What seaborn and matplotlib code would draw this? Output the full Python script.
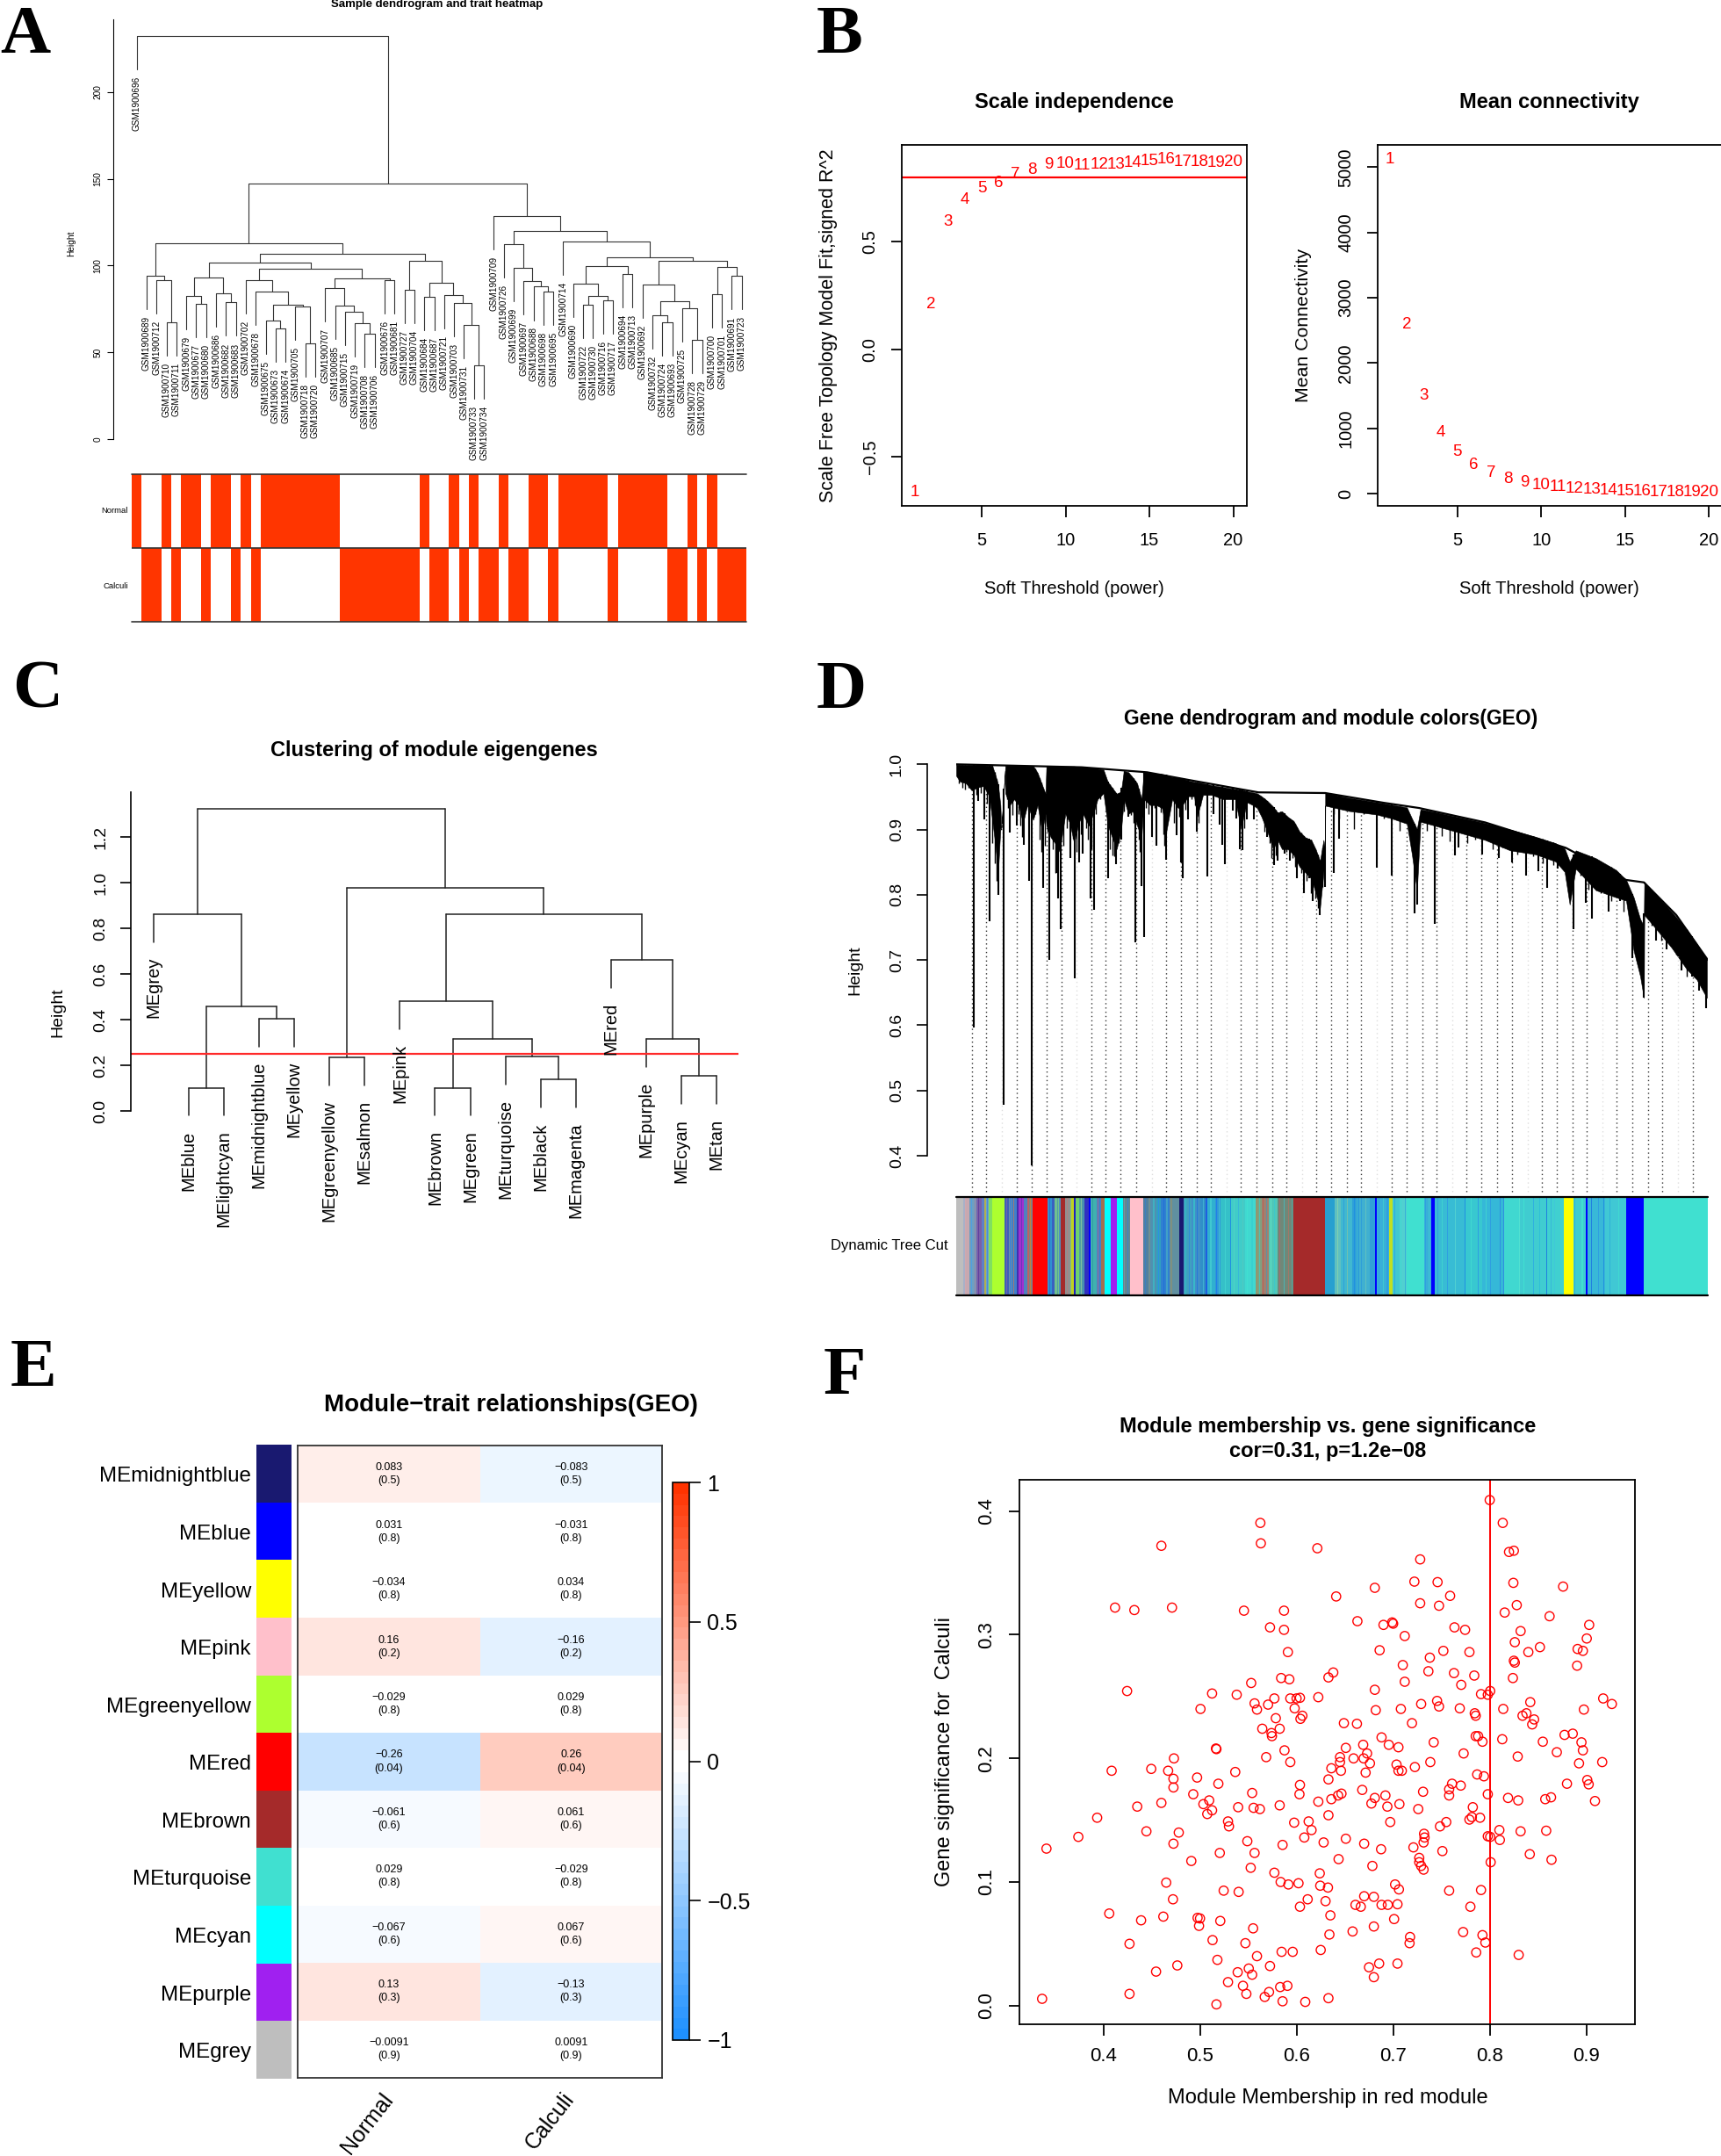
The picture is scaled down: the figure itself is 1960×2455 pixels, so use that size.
import numpy as np
import seaborn as sns
import matplotlib.pyplot as plt
from matplotlib.colors import ListedColormap, LinearSegmentedColormap

W, H = 1960, 2455
FONT = 'Liberation Sans'

# --------------------------------------------------------------------------- #
# Panel A: sample dendrogram, node = (height, left, right), leaf = GSM suffix
sample_tree = (232.4, 696, (147.3,
    (113.0,
        (94.0, 689, (91.5, 712, (67.5, 710, 711))),
        (106.8,
            (102.0,
                (93.0,
                    (82.4, 679, (77.8, 677, 680)),
                    (83.9, 686, (78.8, 682, 683))),
                (98.0,
                    (91.8, 702, (85.2, 678, (77.6,
                        (68.2, 675, (64.0, 673, 674)),
                        (76.6, 705, (55.2, 718, 720))))),
                    (92.5,
                        (87.3, 707, (76.8, 685, (73.4, 715, (67.0, 719, (61.0, 708, 706))))),
                        (91.5, 676, 681)))),
            (102.6,
                (86.2, 727, 704),
                (90.0,
                    (82.2, 684, 687),
                    (83.2, 721, (78.6, 703, (65.8, 731, (42.7, 733, 734)))))))),
    (128.6, 709, (119.8,
        (112.6, 726, (98.9, 699, (91.0, 697, (87.9, 688, (85.2, 698, 695))))),
        (113.8, 714, (105.0,
            (99.6,
                (89.5, 690, (82.7, (77.3, 722, 730), (80.2, 716, 717))),
                (95.4, 694, 713)),
            (102.6,
                (89.0, 692, (79.3,
                    (71.4, 732, (67.5, 724, 693)),
                    (75.6, 725, (57.4, 728, 729)))),
                (99.4, (83.7, 700, 701), (94.0, 691, 723)))))))))
trait_names = ['Normal', 'Calculi']
trait_normal = [1, 0, 0, 1, 0, 1, 1, 0, 1, 1, 0, 1, 0, 1, 1, 1, 1, 1, 1, 1, 1,
                0, 0, 0, 0, 0, 0, 0, 0, 1, 0, 0, 1, 0, 1, 0, 0, 1, 0, 0, 1, 1,
                0, 1, 1, 1, 1, 1, 0, 1, 1, 1, 1, 1, 0, 0, 1, 0, 1, 0, 0, 0]

# Panel B: soft threshold fit
powers = list(range(1, 21))
scale_fit = [-0.667, 0.207, 0.592, 0.696, 0.749, 0.775, 0.815, 0.833, 0.859, 0.8625,
             0.856, 0.859, 0.859, 0.866, 0.874, 0.883, 0.872, 0.871, 0.868, 0.871]
mean_conn = [5117, 2585, 1500, 941, 633, 436, 314, 229, 170, 128,
             96, 74, 59, 48, 37, 32, 27, 21, 16, 16]

# Panel C: module eigengene tree
me_tree = (1.324,
    (0.863, 'MEgrey', (0.459, (0.102, 'MEblue', 'MElightcyan'),
                       (0.405, 'MEmidnightblue', 'MEyellow'))),
    (0.978, (0.235, 'MEgreenyellow', 'MEsalmon'),
     (0.864,
      (0.482, 'MEpink', (0.3145, (0.102, 'MEbrown', 'MEgreen'),
                         (0.240, 'MEturquoise', (0.137, 'MEblack', 'MEmagenta')))),
      (0.662, 'MEred', (0.317, 'MEpurple', (0.153, 'MEcyan', 'MEtan'))))))

# Panel D: gene tree read as percent of gene order vs height
roof_x = [0, 16.7, 25.4, 31.45, 40.2, 48.9, 49.1, 56.9, 61.6, 70.36, 81.1, 89.1, 91.5, 95.8, 100]
roof_h = [1.0, 0.9955, 0.9878, 0.975, 0.957, 0.956, 0.956, 0.941, 0.933, 0.911, 0.872, 0.8228, 0.819, 0.769, 0.7]
mass_x = [0.0, 0.51, 1.29, 2.06, 2.84, 3.62, 4.4, 4.79, 5.18, 5.57, 5.88, 6.0, 6.5, 6.54, 7.13, 7.71, 8.29, 8.88,
          9.46, 10.24, 10.83, 11.41, 11.88, 12.0, 12.58, 13.16, 13.75, 14.52, 15.11, 15.69, 16.28, 16.86, 17.64,
          18.22, 18.81, 19.59, 20.17, 20.76, 21.34, 21.92, 22.31, 22.9, 23.48, 24.07, 24.65, 24.96, 25.82, 26.6,
          27.38, 27.96, 28.74, 29.52, 30.1, 30.88, 31.66, 32.05, 32.83, 34.0, 35.55, 37.11, 37.89, 38.67, 39.45,
          40.03, 40.62, 41.39, 42.17, 42.76, 43.34, 44.12, 44.9, 45.68, 46.46, 47.24, 47.82, 48.4, 48.87, 49.08,
          49.1, 52.25, 55.94, 57.95, 59.96, 60.63, 61.3, 61.77, 63.65, 67.0, 70.36, 73.7, 77.06, 79.75, 80.95,
          81.62, 82.43, 85.1, 87.8, 89.13, 90.14, 91.0, 91.48, 91.55, 93.16, 95.17, 97.18, 98.52, 99.87]
mass_top = [0.9995, 0.9995, 0.999, 0.999, 0.999, 0.9985, 0.998, 0.998, 0.985, 0.969, 0.9375, 0.9, 0.99, 0.998,
            0.998, 0.998, 0.998, 0.998, 0.9975, 0.9975, 0.987, 0.969, 0.955, 0.9975, 0.9975, 0.997, 0.997, 0.997,
            0.997, 0.997, 0.996, 0.995, 0.995, 0.995, 0.993, 0.992, 0.973, 0.964, 0.955, 0.958, 0.99, 0.988,
            0.98, 0.971, 0.9465, 0.988, 0.987, 0.986, 0.985, 0.984, 0.98, 0.98, 0.978, 0.975, 0.973, 0.9725,
            0.971, 0.968, 0.965, 0.962, 0.961, 0.9586, 0.957, 0.9555, 0.951, 0.944, 0.935, 0.926, 0.928, 0.9195,
            0.913, 0.897, 0.888, 0.884, 0.87, 0.852, 0.884, 0.87,
            0.956, 0.9487, 0.942, 0.938, 0.934, 0.917, 0.901, 0.931, 0.927, 0.9185, 0.91, 0.9, 0.889, 0.879, 0.871,
            0.851, 0.868, 0.856, 0.838, 0.823, 0.796, 0.763, 0.752, 0.8195, 0.799, 0.774, 0.747, 0.725, 0.7]
mass_low = [0.9824, 0.9734, 0.971, 0.96, 0.9645, 0.9667, 0.951, 0.915, 0.879, 0.834, 0.902, 0.9, 0.99, 0.9555,
            0.9375, 0.9465, 0.9375, 0.91, 0.9375, 0.915, 0.9375, 0.897, 0.924, 0.906, 0.888, 0.879, 0.866, 0.924,
            0.91, 0.879, 0.91, 0.924, 0.906, 0.924, 0.9465, 0.9555, 0.906, 0.888, 0.87, 0.897, 0.9465, 0.924,
            0.928, 0.906, 0.888, 0.9465, 0.9375, 0.9375, 0.933, 0.897, 0.9465, 0.933, 0.9375, 0.951, 0.951, 0.9195,
            0.953, 0.953, 0.9465, 0.9465, 0.9016, 0.942, 0.9375, 0.933, 0.9195, 0.897, 0.87, 0.884, 0.87, 0.87,
            0.861, 0.843, 0.834, 0.825, 0.803, 0.78, 0.834, 0.87,
            0.9366, 0.9284, 0.923, 0.917, 0.909, 0.862, 0.807, 0.912, 0.906, 0.895, 0.884, 0.868, 0.862, 0.851,
            0.835, 0.785, 0.84, 0.807, 0.796, 0.791, 0.714, 0.675, 0.642, 0.769, 0.747, 0.719, 0.686, 0.67, 0.642]
spike_x = [2.38, 2.96, 3.7, 4.48, 5.57, 6.35, 7.13, 8.02, 9.0, 9.7, 10.09, 11.6, 12.38, 13.36, 13.59, 13.9, 15.23,
           15.77, 16.32, 16.86, 17.83, 18.3, 20.17, 21.3, 22.0, 22.94, 23.79, 24.65, 24.96, 26.09, 26.67, 27.92,
           29.32, 29.91, 30.14, 30.88, 32.0, 33.4, 34.27, 35.0, 35.4, 35.79, 36.8, 37.3, 37.77, 38.04, 38.67, 39.6,
           41.39, 42.25, 42.76, 43.65, 44.43, 45.37, 46.26, 46.92, 47.47, 48.4, 49.03, 50.2, 50.9, 55.94, 57.95,
           60.97, 61.3, 63.65, 66.33, 66.87, 70.0, 72.2, 74.0, 75.85, 77.4, 78.67, 80.08, 82.1, 83.77, 84.57, 86.79,
           88.33, 89.94, 91.5, 93.16, 94.5, 96.5, 97.85, 98.86, 99.73]
spike_low = [0.596, 0.944, 0.916, 0.76, 0.8, 0.478, 0.895, 0.906, 0.877, 0.822, 0.385, 0.81, 0.7, 0.834, 0.795, 0.747,
             0.857, 0.672, 0.85, 0.863, 0.794, 0.777, 0.826, 0.847, 0.884, 0.92, 0.727, 0.813, 0.735, 0.888, 0.875,
             0.854, 0.892, 0.85, 0.826, 0.916, 0.897, 0.828, 0.924, 0.907, 0.877, 0.847, 0.929, 0.917, 0.87, 0.868,
             0.916, 0.916, 0.888, 0.845, 0.852, 0.863, 0.852, 0.825, 0.803, 0.825, 0.79, 0.769, 0.812, 0.834, 0.886,
             0.842, 0.829, 0.772, 0.785, 0.756, 0.86, 0.873, 0.862, 0.857, 0.85, 0.83, 0.836, 0.811, 0.84, 0.747,
             0.788, 0.763, 0.774, 0.791, 0.703, 0.642, 0.73, 0.717, 0.684, 0.675, 0.653, 0.626]
fine_x = [0.31, 0.82, 1.21, 1.67, 2.65, 3.23, 4.09, 4.79, 5.1, 5.37, 6.74, 6.93, 7.44, 8.29, 8.53, 8.76, 9.31, 10.47,
          11.1, 11.33, 11.8, 12.19, 12.89, 13.16, 14.21, 14.72, 15.5, 16.0, 16.55, 17.25, 17.56, 18.03, 18.61, 19.2,
          20.44, 20.76, 21.07, 21.6, 22.31, 23.29, 23.56, 24.26, 24.45, 25.23, 25.62, 26.4, 27.18, 27.57, 27.69,
          28.54, 29.01, 29.71, 30.49, 31.35, 31.74, 32.24, 32.52, 38.28, 41.0, 41.7, 41.98, 42.48, 43.15, 43.93,
          44.7, 45.09, 45.87, 46.65, 47.24, 47.82, 48.09, 48.71, 50.2, 50.9, 52.9, 54.26, 56.94, 58.95, 62.64, 64.66,
          65.66, 68.0, 69.0, 71.36, 72.7, 74.7, 76.7, 78.05, 79.4, 83.1, 84.1, 85.8, 87.1, 88.8, 92.5, 93.8, 95.84,
          97.18]
fine_low = [0.971, 0.9645, 0.961, 0.9645, 0.953, 0.956, 0.94, 0.879, 0.848, 0.821, 0.9465, 0.933, 0.922, 0.924, 0.906,
            0.888, 0.933, 0.924, 0.884, 0.866, 0.875, 0.897, 0.87, 0.834, 0.875, 0.9016, 0.886, 0.866, 0.893, 0.9016,
            0.884, 0.87, 0.924, 0.9465, 0.87, 0.861, 0.859, 0.879, 0.928, 0.922, 0.91, 0.884, 0.866, 0.933, 0.924,
            0.933, 0.926, 0.893, 0.875, 0.942, 0.91, 0.919, 0.931, 0.9465, 0.9375, 0.91, 0.9375, 0.9016, 0.897, 0.879,
            0.857, 0.861, 0.879, 0.866, 0.857, 0.843, 0.834, 0.821, 0.803, 0.794, 0.78, 0.812, 0.923, 0.9174, 0.901,
            0.923, 0.9174, 0.898, 0.898, 0.89, 0.8816, 0.879, 0.884, 0.87, 0.873, 0.862, 0.8596, 0.8486, 0.846, 0.829,
            0.8074, 0.802, 0.791, 0.774, 0.7524, 0.73, 0.708, 0.675]
guide_dark = [2.1, 4.0, 8.06, 10.05, 12.06, 14.05, 17.95, 19.9, 21.9, 23.9, 27.9, 29.9, 32.0, 33.9, 37.9, 39.9, 42.0,
              43.9, 47.9, 49.9, 52.0, 53.9, 57.9, 59.9, 62.0, 63.9, 67.9, 69.9, 72.0, 73.9, 77.9, 79.9, 82.0, 83.9,
              87.9, 89.9, 92.0, 93.9, 98.0]
guide_faint = [6.05, 16.0, 26.0, 36.0, 46.0, 56.0, 66.0, 76.0, 86.0, 96.0]

seg_colors = ['#BEBEBE', '#A8B0C8', '#C8A8B0', '#6F9FC0', '#7A5FA8', '#5F7FC8', '#B0B050', '#70A0C8', '#80E060',
              '#ADFF2F', '#4060B8', '#6F8FA8', '#4080C8', '#4030B0', '#A030D0', '#5080C0', '#C06060', '#808080',
              '#FF0000', '#3090D0', '#3A60C0', '#70C090', '#5090C0', '#A52A2A', '#909090', '#80C080', '#C0D020',
              '#2020C0', '#70D070', '#50A0A0', '#3030C0', '#0000FF', '#40B0B0', '#4080C8', '#A07050', '#00FFFF',
              '#A020F0', '#00FFFF', '#608890', '#FFC0CB', '#5080A0', '#5090B0', '#30A0C0', '#3080D0', '#6090A0',
              '#191970', '#40A0C0', '#4090C8', '#3090C8', '#30B0D0', '#3098D8', '#35C0C8', '#40CCC8', '#40D8D0',
              '#80A080', '#A08070', '#50C8B8', '#708878', '#A52A2A', '#28A0D0', '#60C0C0', '#40B8D0', '#2EA0D8',
              '#40B0D0', '#30A0D8', '#0000FF', '#38B0D8', '#C0E020', '#40C8D0', '#50D0D0', '#40E0D0', '#38B0D8',
              '#0000FF', '#38BCD4', '#38C8D0', '#35B8D8', '#40D8D0', '#40CCD0', '#2080E0', '#40D0D0', '#FFFF00',
              '#40CCD0', '#0000FF', '#38B8D8', '#40C8D4', '#0000FF', '#40E0D0']
seg_widths = [24, 10, 10, 25, 17, 10, 6, 10, 12, 42, 13, 10, 17, 8, 18, 10, 7, 11, 51, 15, 10, 14, 6, 16, 17, 5, 8,
              6, 11, 20, 15, 6, 19, 15, 12, 23, 21, 19, 25, 44, 26, 20, 15, 30, 33, 15, 27, 30, 25, 27, 18, 35, 50,
              35, 20, 25, 30, 55, 107, 33, 20, 40, 25, 35, 18, 7, 40, 12, 26, 22, 60, 25, 12, 103, 60, 75, 50, 95,
              3, 55, 33, 44, 6, 59, 71, 61, 219]
# thin stripes inside the mixed stretches: bin, width, colour
stripe_bin = [29, 52, 62, 76, 92, 104, 171, 184, 196, 221, 236, 252, 319, 344, 379, 426, 432, 466, 484, 574, 584,
              646, 658, 674, 690, 708, 719, 734, 784, 796, 812, 824, 844, 854, 869, 889, 899, 919, 936, 949, 964,
              979, 994, 1009, 1027, 1036, 1049, 1059, 1074, 1086, 1104, 1119, 1134, 1146,
              1304, 1324, 1336, 1359, 1369, 1384, 1399, 1444, 1459, 1472, 1499, 1519, 1534, 1604, 1614, 1646, 1659,
              1679, 1704, 1739, 1759, 1784, 1809, 1824, 1859, 1869, 1924, 1939, 1974, 1994, 2034, 2046, 2114, 2139,
              2172, 2194, 2214, 2234, 2264]
stripe_width = [3, 3, 3, 3, 2, 3, 3, 3, 3, 3, 2, 3, 3, 3, 3, 3, 2, 3, 3, 3, 3,
                4, 5, 5, 4, 4, 4, 5, 3, 3, 4, 3, 3, 4, 4, 4, 3, 4, 4, 3, 4,
                3, 4, 6, 3, 3, 3, 3, 4, 3, 3, 4, 3, 4,
                3, 4, 3, 4, 3, 3, 3, 4, 4, 4, 3, 3, 3, 3, 3, 3, 3,
                3, 3, 2, 4, 3, 3, 3, 3, 3, 4, 5, 3, 3, 3, 3, 3, 4, 3, 3, 3, 3, 3]
stripe_color = ['#D0A8B0', '#50A0E0', '#A080A0', '#6040A0', '#D0B040', '#4090D8', '#7060B0', '#3080E0', '#A07878',
                '#7030C0', '#A04040', '#C08040', '#2870D0', '#50A0A0', '#B08080', '#80C0A0', '#4080C0', '#2FA0A0',
                '#A07090', '#7890A0', '#4080C8',
                '#3C7FC0', '#709090', '#40B0C0', '#2F8FE0', '#2070D8', '#40A0C8', '#80907F', '#30C0C0', '#2F8FD8',
                '#38B8C8', '#2878D8', '#40B0D0', '#1F60E0', '#40C8D0', '#2080E8', '#40C0D0', '#40D0D0', '#2090E0',
                '#50D0C8', '#38B8D8', '#50C8C0', '#40E0D0', '#38D0D0', '#A09060', '#50C0B0', '#C06050', '#6090A0',
                '#60E0C0', '#40C8C8', '#A07070', '#50B0B0', '#A07868', '#50A8A0',
                '#80D0B0', '#30A0D8', '#70C0B0', '#2090E0', '#40B8D0', '#2F9FD8', '#60C0C0', '#2F9FE0', '#40C8D0',
                '#2F9FE0', '#30A8E0', '#40D8D0', '#38B0D8', '#2F9FE0', '#40C8D0', '#2F9FE0', '#40D0D0', '#2F9FE0',
                '#50D0D0', '#2090E0', '#40D8D0', '#2F9FE0', '#40D0D0', '#2F9FE0', '#2F90E0', '#2F90E0', '#50E0D0',
                '#40E0D0', '#2FB0E0', '#30C0D8', '#38B8D8', '#40C8D8', '#30B0D8', '#40E0D0', '#2080E0', '#2FA0E0',
                '#2090E0', '#30B0D8', '#40D8D0']

# Panel E: module-trait table
me_names = ['MEmidnightblue', 'MEblue', 'MEyellow', 'MEpink', 'MEgreenyellow', 'MEred',
            'MEbrown', 'MEturquoise', 'MEcyan', 'MEpurple', 'MEgrey']
me_colors = ['#191970', '#0000FF', '#FFFF00', '#FFC0CB', '#ADFF2F', '#FF0000',
             '#A52A2A', '#40E0D0', '#00FFFF', '#A020F0', '#BEBEBE']
cor_normal = [0.083, 0.031, -0.034, 0.16, -0.029, -0.26, -0.061, 0.029, -0.067, 0.13, -0.0091]
pval = [0.5, 0.8, 0.8, 0.2, 0.8, 0.04, 0.6, 0.8, 0.6, 0.3, 0.9]

# Panel F: module membership vs gene significance
mm = [.800, .5625, .8135, .460, .563, .6215, .820, .825, .728, .722, .746, .8245, .876, .681, .641, .759, .728, .7475,
      .828, .412, .471, .432, .5455, .587, .8155, .862, .663, .699, .700, .690, .903, .5725, .7635, .587, .7745, .832,
      .712, .9005, .826, .852, .891, .8965, .591, .686, .752, .779, .840, .738, .825, .826, .710, .8905, .7365, .638,
      .633, .584, .5925, .763, .784, .824, .712, .553, .7705, .4245, .681, .8005, .5125, .791, .798, .538, .6225, .577,
      .5935, .600, .6035, .9175, .7455, .842, .5565, .5705, .729, .9265, .7475, .5005, .559, .598, .682, .708, .769,
      .814, .8975, .7845, .7855, .834, .838, .606, .604, .5785, .846, .844, .649, .6625, .7195, .5645, .5825, .574,
      .5745, .688, .7855, .788, .8775, .886, .813, .7925, .855, .895, .669, .6955, .7055, .742, .651, .5165, .517,
      .5875, .8965, .673, .773, .8695, .473, .5685, .645, .659, .6695, .829, .5935, .645, .676, .7035, .7385, .8925,
      .9165, .636, .7225, .4495, .4085, .467, .646, .7055, .709, .5365, .6715, .787, .794, .497, .4725, .633, .901,
      .519, .761, .770, .880, .9025, .6035, .4725, .758, .554, .668, .731, .603, .493, .6465, .643, .692, .798, .758,
      .636, .681, .819, .8575, .8635, .6225, .5095, .8295, .909, .460, .5035, .7065, .6775, .435, .5825, .5395, .5555,
      .694, .7825, .562, .5125, .726, .5075, .633, .3935, .790, .7815, .779, .529, .6125, .5975, .697, .755, .530,
      .7485, .6155, .4445, .478, .810, .832, .8585, .732, .7325, .374, .608, .651, .798, .8005, .8105, .549, .628,
      .7315, .4725, .670, .5855, .721, .341, .6875, .5205, .5565, .751, .8415, .6435, .727, .491, .864, .801, .727,
      .729, .7315, .6785, .5525, .577, .624, .465, .5835, .5915, .602, .702, .6245, .6325, .706, .5245, .540, .758,
      .791, .472, .670, .680, .6115, .630, .661, .688, .6945, .7045, .6665, .6035, .780, .406, .635, .462, .4975,
      .500, .439, .521, .701, .499, .680, .555, .658, .7725, .634, .7925, .7175, .513, .7955, .427, .547, .717, .625,
      .5845, .596, .786, .559, .830, .518, .6855, .7045, .4765, .5725, .675, .5505, .4545, .539, .554, .680, .529,
      .5445, .5905, .583, .427, .548, .5715, .567, .3365, .633, .5855, .609, .517]
gs = [.409, .3905, .3905, .372, .374, .370, .367, .368, .361, .343, .3426, .342, .339, .338, .331, .3315, .3255, .3235,
      .324, .322, .322, .320, .3195, .3195, .318, .315, .311, .310, .309, .308, .308, .306, .306, .304, .304, .303,
      .299, .297, .294, .290, .2885, .287, .286, .2875, .287, .286, .286, .2815, .279, .2775, .2755, .275, .2705, .2695,
      .2655, .265, .264, .269, .267, .265, .262, .261, .2595, .2545, .2555, .2545, .2525, .252, .2515, .2515, .2495, .2485,
      .2485, .2485, .249, .2485, .2465, .2455, .2445, .2435, .244, .244, .242, .240, .2395, .2405, .239, .240, .2405,
      .240, .2395, .2365, .2345, .2345, .2365, .2345, .232, .2325, .2315, .2275, .2285, .228, .2285, .224, .224, .2205,
      .218, .217, .218, .218, .219, .220, .2155, .2135, .2135, .213, .211, .211, .209, .213, .2085, .208, .2075,
      .2065, .2065, .204, .204, .205, .200, .201, .201, .200, .200, .2015, .197, .197, .196, .195, .197, .196,
      .197, .192, .193, .1915, .190, .190, .190, .190, .190, .189, .1885, .187, .1855, .1845, .1835, .183, .1825,
      .1795, .1795, .178, .1795, .179, .1785, .1765, .175, .172, .1745, .173, .171, .171, .1715, .170, .170, .171, .170,
      .167, .168, .168, .167, .1685, .165, .166, .166, .1655, .164, .163, .163, .1635, .161, .162, .1605, .160,
      .161, .1605, .159, .158, .159, .155, .154, .152, .152, .1525, .1505, .149, .149, .148, .1485, .1485, .145,
      .145, .142, .141, .140, .142, .141, .1415, .139, .136, .1365, .136, .135, .137, .1365, .134, .133, .132,
      .132, .131, .131, .130, .128, .127, .1265, .1235, .1235, .125, .1225, .1185, .1195, .117, .118, .116, .116,
      .113, .110, .113, .1115, .1075, .107, .0995, .100, .098, .099, .098, .097, .0955, .094, .093, .092, .093,
      .0935, .086, .0885, .088, .086, .0845, .0815, .0815, .0815, .082, .080, .080, .080, .0745, .073, .072, .071,
      .0705, .069, .0685, .070, .0645, .064, .0625, .060, .0595, .0575, .057, .0555, .053, .051, .050, .0505, .0505, .045,
      .0435, .0435, .043, .040, .041, .037, .034, .034, .0325, .032, .031, .030, .0275, .027, .025, .023, .019,
      .016, .016, .015, .0095, .0095, .011, .007, .0055, .006, .0035, .003, .001]


# --------------------------------------------------------------------------- #
def box(x0, y0, x1, y1):
    return fig.add_axes([x0 / W, 1 - y1 / H, (x1 - x0) / W, (y1 - y0) / H])


def label(x, y, s, **kw):
    fig.text(x / W, 1 - y / H, s, ha=kw.pop('ha', 'center'), va=kw.pop('va', 'center'), **kw)


def draw_node(ax, node, seen, hang, gap, fsize, style, fmt='{}'):
    if not isinstance(node, tuple):
        seen.append(node)
        return len(seen) - 1, None
    h, left, right = node
    xs = []
    for child in (left, right):
        cx, ch = draw_node(ax, child, seen, hang, gap, fsize, style, fmt)
        if ch is None:
            ch = h - hang
            ax.text(cx, ch - gap, fmt.format(child), rotation=90, ha='center', va='top', fontsize=fsize)
        ax.plot([cx, cx], [h, ch], **style)
        xs.append(cx)
    ax.plot(xs, [h, h], **style)
    return sum(xs) / 2, h


def r_yaxis(ax, ticks, labels, outward, ticklen, pad, size, lw=1.2):
    for s in ['top', 'right', 'bottom']:
        ax.spines[s].set_visible(False)
    ax.spines['left'].set_position(('outward', outward))
    ax.spines['left'].set_linewidth(lw)
    ax.set_xticks([])
    ax.set_yticks(ticks)
    ax.set_yticklabels(labels, rotation=90, va='center')
    ax.tick_params(axis='y', length=ticklen, width=lw, pad=pad, labelsize=size)
    ax.patch.set_visible(False)


def r_box(ax, xticks, yticks, ylabels, size, lw=1.3, xpad=10):
    for s in ax.spines.values():
        s.set_visible(True)
        s.set_linewidth(lw)
    ax.set_xticks(xticks)
    ax.set_yticks(yticks)
    ax.set_yticklabels(ylabels, rotation=90, va='center')
    ax.tick_params(length=9, width=lw, pad=10, labelsize=size)
    ax.tick_params(axis='x', pad=xpad)


sns.set_theme(style='ticks', rc={'axes.edgecolor': 'black', 'xtick.color': 'black', 'ytick.color': 'black',
                                 'text.color': 'black', 'axes.labelcolor': 'black'})
plt.rcParams['font.family'] = [FONT, 'DejaVu Sans']
fig = plt.figure(figsize=(W / 100, H / 100), dpi=100, facecolor='white')

# --------------------------------------------------------------------------- #
# A
ax = box(150, 22, 850.4, 500)
ax.set_xlim(-0.5, 61.5)
ax.set_ylim(0, 242)
draw_node(ax, sample_tree, [], 19.3, 4, 7.2, dict(color='#333333', lw=0.8, clip_on=False), 'GSM1900{}')
r_yaxis(ax, [0, 50, 100, 150, 200], ['0', '50', '100', '150', '200'], 15, 5, 4, 7.3, lw=0.8)
label(81, 277, 'Height', rotation=90, fontsize=7.3)
label(498, 5, 'Sample dendrogram and trait heatmap', fontsize=9.5, fontweight='bold')

ax = box(150, 540, 850.4, 708)
sns.heatmap(np.array([trait_normal, [1 - v for v in trait_normal]]), cmap=['white', '#FF3500'], cbar=False,
            xticklabels=False, yticklabels=False, ax=ax)
ax.axhline(0, color='#333333', lw=1.2, clip_on=False)
ax.axhline(1, color='#333333', lw=1.2)
ax.axhline(2, color='#333333', lw=1.2, clip_on=False)
label(146, 582, trait_names[0], ha='right', fontsize=6.8)
label(146, 667, trait_names[1], ha='right', fontsize=6.8)

# --------------------------------------------------------------------------- #
# B
ax = box(1027, 165.4, 1419.5, 575.5)
ax.set_xlim(0.24, 20.78)
ax.set_ylim(-0.728, 0.95)
r_box(ax, [5, 10, 15, 20], [-0.5, 0, 0.5], ['\u22120.5', '0.0', '0.5'], 14.5, xpad=13)
ax.axhline(0.8, color='red', lw=1.6)
for p, v in zip(powers, scale_fit):
    ax.text(p, v, str(p), color='red', fontsize=13.5, ha='center', va='center')
label(1223, 116, 'Scale independence', fontsize=17, fontweight='bold')
label(1223, 670, 'Soft Threshold (power)', fontsize=14.5)
label(943, 371, 'Scale Free Topology Model Fit,signed R^2', rotation=90, fontsize=15.5)

ax = box(1568.5, 165.4, 1961, 575.5)
ax.set_xlim(0.24, 20.76)
ax.set_ylim(-181, 5335)
r_box(ax, [5, 10, 15, 20], [0, 1000, 2000, 3000, 4000, 5000], ['0', '1000', '2000', '3000', '4000', '5000'], 14.5,
      xpad=13)
for p, v in zip(powers, mean_conn):
    ax.text(p, v, str(p), color='red', fontsize=13.5, ha='center', va='center')
label(1764, 116, 'Mean connectivity', fontsize=17, fontweight='bold')
label(1764, 670, 'Soft Threshold (power)', fontsize=14.5)
label(1484.5, 370.6, 'Mean Connectivity', rotation=90, fontsize=15.3)

# --------------------------------------------------------------------------- #
# C
ax = box(149, 902, 841, 1265)
ax.set_xlim(-0.649, 16.625)
ax.set_ylim(0, 1.398)
draw_node(ax, me_tree, [], 0.123, 0.0655, 14.5, dict(color='#222222', lw=1.1, clip_on=False))
r_yaxis(ax, [0, 0.2, 0.4, 0.6, 0.8, 1.0, 1.2], ['0.0', '0.2', '0.4', '0.6', '0.8', '1.0', '1.2'], 0, 8.5, 10, 14)
ax.axhline(0.25, color='#FF2A2A', lw=1.6)
label(66, 1153, 'Height', rotation=90, fontsize=14)
label(494, 855, 'Clustering of module eigengenes', fontsize=17, fontweight='bold')

# --------------------------------------------------------------------------- #
# D
ax = box(1089, 868, 1945, 1362)
ax.set_xlim(0, 100)
ax.set_ylim(1 - (1362 - 870.3) / 742.8, 1 - (868 - 870.3) / 742.8)
ax.vlines(guide_faint, 0.3454, np.interp(guide_faint, mass_x, mass_low), color='#DDDDDD', lw=1, linestyle=(0, (1, 2.5)))
ax.vlines(guide_dark, 0.3454, np.interp(guide_dark, mass_x, mass_low), color='#333333', lw=1, linestyle=(0, (1, 2.5)))
ax.fill_between(mass_x, mass_low, mass_top, color='black', lw=0.4)
ax.vlines(spike_x, spike_low, np.interp(spike_x, mass_x, mass_top), color='black', lw=1.5)
ax.vlines(fine_x, fine_low, np.interp(fine_x, mass_x, mass_top), color='black', lw=1.0)
ax.plot(roof_x, roof_h, color='black', lw=1.6)
r_yaxis(ax, [0.4, 0.5, 0.6, 0.7, 0.8, 0.9, 1.0], ['0.4', '0.5', '0.6', '0.7', '0.8', '0.9', '1.0'], 24, 8.5, 10, 14, lw=1.2)
ax.spines['left'].set_bounds(0.4, 1.0)
label(974, 1105, 'Height', rotation=90, fontsize=14)
label(1516, 818, 'Gene dendrogram and module colors(GEO)', fontsize=16.5, fontweight='bold')

ax = box(1089, 1363.3, 1945, 1475)
cells = np.repeat(np.arange(len(seg_colors)), seg_widths)
bar_colors = list(seg_colors)
for b, w, c in zip(stripe_bin, stripe_width, stripe_color):
    bar_colors.append(c)
    cells[b:b + w] = len(bar_colors) - 1
sns.heatmap(cells[None, :], cmap=ListedColormap(bar_colors), vmin=-0.5, vmax=len(bar_colors) - 0.5, cbar=False,
            xticklabels=False, yticklabels=False, ax=ax, rasterized=True)
ax.axhline(0, color='black', lw=1.6, clip_on=False)
ax.axhline(1, color='black', lw=1.6, clip_on=False)
label(1080, 1419, 'Dynamic Tree Cut', ha='right', fontsize=12)

# --------------------------------------------------------------------------- #
# E
ax = box(291.5, 1645.3, 332.3, 2366.7)
sns.heatmap(np.arange(len(me_colors))[:, None], cmap=ListedColormap(me_colors), cbar=False,
            xticklabels=False, yticklabels=False, ax=ax)
for i, name in enumerate(me_names):
    ax.text(-0.14, i + 0.55, name, ha='right', va='center', fontsize=17.4, transform=ax.get_yaxis_transform())

cor_table = np.array([cor_normal, [-v for v in cor_normal]]).T
cell_text = [[f'{v}\n({p})'.replace('-', '\u2212') for v in row] for row, p in zip(cor_table, pval)]
br_cmap = LinearSegmentedColormap.from_list('blueWhiteRed', [(0, '#1E90FF'), (0.4898, 'white'), (0.5102, 'white'),
                                                            (1, '#FF3300')], N=50)
ax = box(339, 1646, 754, 2366)
cax = box(766, 1688.3, 785.4, 2323)
sns.heatmap(cor_table, cmap=br_cmap, vmin=-1, vmax=1, annot=np.array(cell_text, dtype=object), fmt='',
            annot_kws=dict(size=9, color='black', linespacing=1.35), xticklabels=False, yticklabels=False,
            ax=ax, cbar_ax=cax, cbar_kws=dict(ticks=[-1, -0.5, 0, 0.5, 1]))
for s in ax.spines.values():
    s.set_visible(True)
    s.set_linewidth(1.3)
    s.set_color('#333333')
cb = ax.collections[0].colorbar
cb.outline.set_linewidth(1.2)
cb.outline.set_edgecolor('black')
cb.set_ticklabels(['\u22121', '\u22120.5', '0', '0.5', '1'])
cax.tick_params(length=9.4, width=1.2, labelsize=18, pad=5)
label(443, 2386, trait_names[0], rotation=52, rotation_mode='anchor', ha='right', va='center', fontsize=18)
label(649, 2386, trait_names[1], rotation=52, rotation_mode='anchor', ha='right', va='center', fontsize=18)
label(582, 1600, 'Module\u2212trait relationships(GEO)', fontsize=20, fontweight='bold')

# --------------------------------------------------------------------------- #
# F
ax = box(1161, 1685, 1862, 2305)
sns.scatterplot(x=mm, y=gs, ax=ax, s=55, marker='o', facecolor='none', edgecolor='red', linewidth=1)
ax.set_xlim(0.313, 0.9504)
ax.set_ylim(-0.0151, 0.4254)
ax.axvline(0.8, color='red', lw=1.4)
r_box(ax, [0.4, 0.5, 0.6, 0.7, 0.8, 0.9], [0, 0.1, 0.2, 0.3, 0.4], ['0.0', '0.1', '0.2', '0.3', '0.4'], 16)
ax.set_xticklabels(['0.4', '0.5', '0.6', '0.7', '0.8', '0.9'])
label(1512, 2389, 'Module Membership in red module', fontsize=17)
label(1076, 1995, 'Gene significance for  Calculi', rotation=90, fontsize=17)
label(1512, 1624, 'Module membership vs. gene significance', fontsize=17, fontweight='bold')
label(1512, 1653, 'cor=0.31, p=1.2e\u221208', fontsize=17, fontweight='bold')

# --------------------------------------------------------------------------- #
# panel letters
for s, x, y in [('A', 0, 60), ('B', 930, 60), ('C', 14, 806), ('D', 930, 806), ('E', 12, 1578), ('F', 938, 1587)]:
    label(x, y, s, ha='left', va='baseline', fontsize=57, fontweight='bold', family='Liberation Serif')

fig.savefig('out.png', dpi=100)
